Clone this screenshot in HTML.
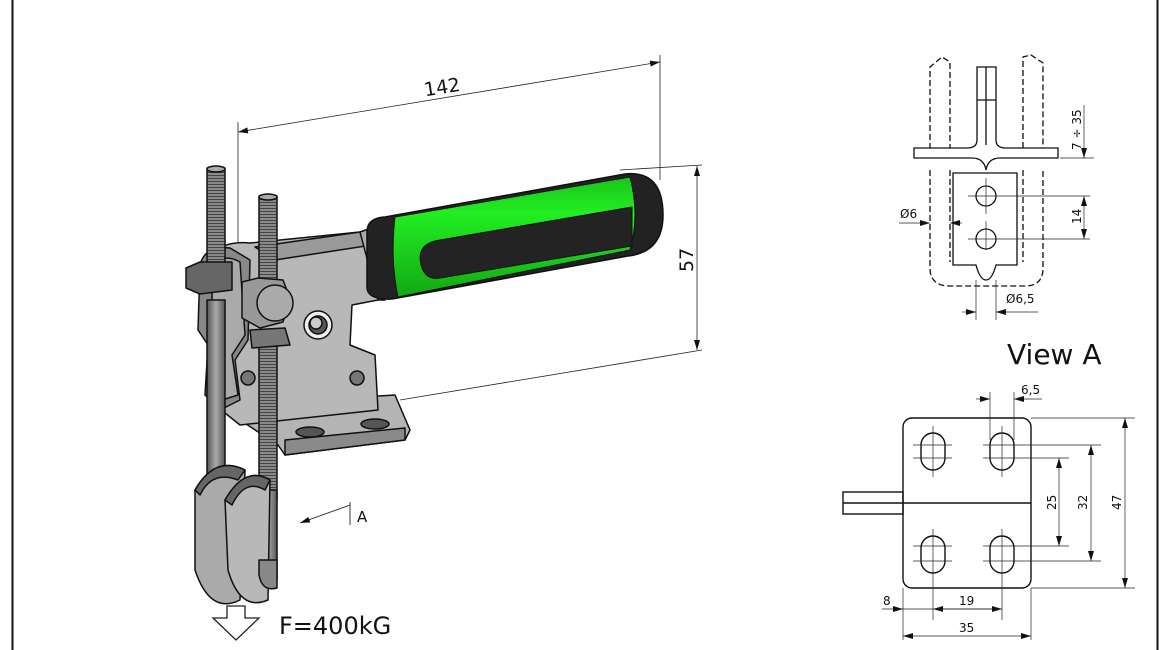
<!DOCTYPE html>
<html><head><meta charset="utf-8"><style>
html,body{margin:0;padding:0;background:#fff}
svg{display:block}
text{font-family:"DejaVu Sans","Liberation Sans",sans-serif;fill:#111}
</style></head><body>
<svg width="1170" height="650" viewBox="0 0 1170 650" xmlns="http://www.w3.org/2000/svg">
<defs>
<marker id="ar" viewBox="0 0 10 6" refX="10" refY="3" markerWidth="10" markerHeight="6" orient="auto-start-reverse" markerUnits="userSpaceOnUse"><path d="M0,0 L10,3 L0,6 z" fill="#111"/></marker>
<linearGradient id="rod" x1="0" x2="1"><stop offset="0" stop-color="#555"/><stop offset=".5" stop-color="#aaa"/><stop offset="1" stop-color="#555"/></linearGradient>
<linearGradient id="gr" x1="0" y1="0" x2="0" y2="1"><stop offset="0" stop-color="#19c419"/><stop offset=".3" stop-color="#22ee22"/><stop offset="1" stop-color="#12a812"/></linearGradient>
<pattern id="thr" width="6" height="3" patternUnits="userSpaceOnUse"><rect width="6" height="3" fill="#8a8a8a"/><line x1="0" y1="1.5" x2="6" y2="1.5" stroke="#444" stroke-width="1"/></pattern>
</defs>
<line x1="12.5" y1="0" x2="12.5" y2="650" stroke="#111" stroke-width="2"/>
<line x1="1157.5" y1="0" x2="1157.5" y2="650" stroke="#111" stroke-width="2"/>

<g stroke="#222" stroke-width="0.8" fill="none">
<line x1="238" y1="122" x2="238" y2="250"/>
<line x1="660" y1="55" x2="660" y2="180"/>
<line x1="238" y1="132" x2="660" y2="62" marker-start="url(#ar)" marker-end="url(#ar)"/>
<line x1="620" y1="170" x2="702" y2="165"/>
<line x1="400" y1="400" x2="702" y2="350"/>
<line x1="697" y1="166" x2="697" y2="350" marker-start="url(#ar)" marker-end="url(#ar)"/>
</g>
<text x="424" y="94" font-size="19" transform="rotate(-9 440 88)">142</text>
<text x="0" y="0" font-size="19" transform="translate(693 272) rotate(-90)">57</text>

<g stroke="#111" stroke-width="1.5" stroke-linejoin="round">
<path d="M232 405 L395 395 L410 430 L405 440 L285 455 L278 445 L240 420 z" fill="#b4b4b4"/>
<path d="M285 440 L405 428 L405 440 L285 455 z" fill="#8a8a8a"/>
<ellipse cx="310" cy="432" rx="14" ry="5" fill="#555"/>
<ellipse cx="375" cy="424" rx="14" ry="5" fill="#555"/>
<path d="M205 265 Q215 240 250 243 L360 232 L375 236 L378 300 L352 305 L350 345 L375 355 L378 410 L240 425 L215 405 z" fill="#b8b8b8"/>
<path d="M255 247 L360 232 L372 245 L275 260 z" fill="#9a9a9a"/>
<circle cx="318" cy="325" r="14" fill="#eee"/>
<circle cx="318" cy="325" r="9" fill="#555"/>
<circle cx="316" cy="323" r="6" fill="#ccc"/>
<circle cx="357" cy="378" r="7" fill="#777"/>
<circle cx="248" cy="378" r="7" fill="#777"/>
<path d="M200 265 Q205 245 230 248 L250 260 L248 340 L235 360 L240 400 L220 410 L205 395 L208 345 L198 330 z" fill="#888"/>
<path d="M212 268 Q222 252 240 262 L245 335 L232 355 L238 395 L222 400 L215 355 L212 330 z" fill="#aaa"/>
<path d="M360 232 L380 225 L385 300 L378 300 z" fill="#aaa"/>
<rect x="207" y="168" width="18" height="110" fill="url(#thr)"/>
<rect x="207" y="300" width="18" height="250" fill="url(#rod)"/>
<rect x="259" y="196" width="18" height="90" fill="url(#thr)"/>
<rect x="259" y="340" width="18" height="160" fill="url(#thr)"/>
<rect x="259" y="490" width="18" height="90" fill="url(#rod)"/>
<ellipse cx="216" cy="169" rx="9" ry="3" fill="#aaa"/>
<ellipse cx="268" cy="197" rx="9" ry="3" fill="#aaa"/>
<path d="M186 268 L200 262 L232 262 L232 290 L200 294 L186 288 z" fill="#666"/>
<path d="M242 282 L258 278 L283 280 L290 298 L283 322 L260 328 L242 318 z" fill="#999"/>
<circle cx="275" cy="303" r="18" fill="#aaa"/>
<path d="M250 330 L285 328 L290 345 L252 348 z" fill="#777"/>
<path d="M195 490 Q215 455 245 470 L240 600 Q210 615 195 570 z" fill="#aaa"/>
<path d="M195 490 Q215 455 245 470 L238 480 Q212 470 200 495 z" fill="#666"/>
<path d="M225 500 Q245 465 270 480 L268 600 Q240 612 228 570 z" fill="#b8b8b8"/>
<path d="M225 500 Q245 465 270 480 L265 490 Q245 478 232 505 z" fill="#666"/>
<path d="M259 575 Q262 592 277 588 L277 560 L259 560 z" fill="#888"/>
<!-- handle -->
<path d="M367 232 Q367 218 385 217 L625 174 Q663 170 663 215 Q663 252 628 256 L392 299 Q368 300 367 288 z" fill="#222"/>
<path d="M395 217 L630 177 Q640 215 630 250 L398 297 Q390 260 395 217 z" fill="url(#gr)" stroke="#111" stroke-width="1"/>
<path d="M420 258 Q420 243 440 240 L632 207 L632 246 L440 278 Q422 281 420 258 z" fill="#232323" stroke="#111" stroke-width="1"/>
</g>

<g stroke="#222" stroke-width="0.9" fill="none">
<line x1="350" y1="505" x2="300" y2="523" marker-end="url(#ar)"/>
<line x1="350" y1="502" x2="350" y2="525"/>
</g>
<text x="357" y="522" font-size="15">A</text>

<path d="M227 606 L245 606 L245 618 L259 618 L236 640 L213 618 L227 618 z" fill="#fff" stroke="#222" stroke-width="1.3"/>
<text x="279" y="634" font-size="24">F=400kG</text>

<g stroke="#111" stroke-width="1.3" fill="none">
<g stroke-dasharray="6 3">
<path d="M930 158 L930 67 L942 57 L950 62 L950 148"/>
<path d="M1023 148 L1023 57 L1031 55 L1043 63 L1043 158"/>
<path d="M930 170 L930 268 Q930 286 950 286 L1025 286 Q1043 286 1043 268 L1043 170"/>
<path d="M950 170 L950 262"/>
<path d="M1023 170 L1023 262"/>
</g>
<path d="M977 67 L996 67 L996 140 Q996 148 1006 148 L1058 148 L1058 158 L1000 158 Q988 158 986 170 Q984 158 972 158 L914 158 L914 148 L967 148 Q977 148 977 140 z" fill="#fff"/>
<line x1="986" y1="67" x2="986" y2="145"/>
<line x1="977" y1="100" x2="996" y2="100"/>
<path d="M1017 265 L1017 173 L953 173 L953 265 L976 265 Q980 280 986 280 Q992 280 996 265 z"/>
<circle cx="986" cy="196" r="10"/>
<circle cx="986" cy="239" r="10"/>
</g>
<g stroke="#222" stroke-width="0.7" fill="none">
<line x1="968" y1="196" x2="1090" y2="196"/><line x1="986" y1="178" x2="986" y2="214"/>
<line x1="968" y1="239" x2="1090" y2="239"/><line x1="986" y1="221" x2="986" y2="250"/>
<line x1="1060" y1="158" x2="1094" y2="158"/>
<line x1="1084" y1="105" x2="1084" y2="158" marker-end="url(#ar)"/>
<line x1="1084" y1="196" x2="1084" y2="239" marker-start="url(#ar)" marker-end="url(#ar)"/>
<line x1="899" y1="223" x2="930" y2="223" marker-end="url(#ar)"/>
<line x1="950" y1="223" x2="962" y2="223" marker-start="url(#ar)"/>
<line x1="976" y1="280" x2="976" y2="320"/><line x1="996" y1="280" x2="996" y2="320"/>
<line x1="962" y1="312" x2="976" y2="312" marker-end="url(#ar)"/>
<line x1="996" y1="312" x2="1038" y2="312" marker-start="url(#ar)"/>
</g>
<text x="900" y="218" font-size="12">Ø6</text>
<text x="1006" y="303" font-size="12">Ø6,5</text>
<text font-size="12" transform="translate(1081 150) rotate(-90)">7 ÷ 35</text>
<text font-size="12" transform="translate(1081 224) rotate(-90)">14</text>
<text x="1007" y="364" font-size="28">View A</text>

<g stroke="#111" stroke-width="1.4" fill="none">
<rect x="903" y="418" width="128" height="170" rx="9"/>
<line x1="903" y1="503" x2="1031" y2="503"/>
<rect x="843" y="492" width="60" height="22"/>
<line x1="843" y1="503" x2="903" y2="503"/>
<rect x="921" y="433" width="24" height="37" rx="12"/>
<rect x="990" y="433" width="24" height="37" rx="12"/>
<rect x="921" y="536" width="24" height="37" rx="12"/>
<rect x="990" y="536" width="24" height="37" rx="12"/>
</g>
<g stroke="#222" stroke-width="0.7" fill="none">
<line x1="933" y1="426" x2="933" y2="477"/><line x1="913" y1="445" x2="952" y2="445"/><line x1="913" y1="458" x2="952" y2="458"/>
<line x1="1002" y1="426" x2="1002" y2="477"/><line x1="983" y1="445" x2="1101" y2="445"/><line x1="983" y1="458" x2="1069" y2="458"/>
<line x1="933" y1="529" x2="933" y2="620"/><line x1="913" y1="546" x2="952" y2="546"/><line x1="913" y1="561" x2="952" y2="561"/>
<line x1="1002" y1="529" x2="1002" y2="620"/><line x1="983" y1="546" x2="1069" y2="546"/><line x1="983" y1="561" x2="1101" y2="561"/>
<line x1="990" y1="392" x2="990" y2="440"/><line x1="1014" y1="392" x2="1014" y2="440"/>
<line x1="976" y1="399" x2="990" y2="399" marker-end="url(#ar)"/>
<line x1="1014" y1="399" x2="1042" y2="399" marker-start="url(#ar)"/>
<line x1="1031" y1="418" x2="1135" y2="418"/><line x1="1031" y1="588" x2="1135" y2="588"/>
<line x1="1059" y1="458" x2="1059" y2="546" marker-start="url(#ar)" marker-end="url(#ar)"/>
<line x1="1091" y1="445" x2="1091" y2="561" marker-start="url(#ar)" marker-end="url(#ar)"/>
<line x1="1125" y1="418" x2="1125" y2="588" marker-start="url(#ar)" marker-end="url(#ar)"/>
<line x1="903" y1="588" x2="903" y2="640"/><line x1="1031" y1="588" x2="1031" y2="640"/>
<line x1="882" y1="609" x2="903" y2="609" marker-end="url(#ar)"/>
<line x1="903" y1="609" x2="1002" y2="609"/>
<line x1="933" y1="609" x2="1002" y2="609" marker-start="url(#ar)" marker-end="url(#ar)"/>
<line x1="903" y1="636" x2="1031" y2="636" marker-start="url(#ar)" marker-end="url(#ar)"/>
</g>
<text x="1021" y="394" font-size="12">6,5</text>
<text x="883" y="605" font-size="12">8</text>
<text x="959" y="605" font-size="12">19</text>
<text x="959" y="632" font-size="12">35</text>
<text font-size="12" transform="translate(1056 510) rotate(-90)">25</text>
<text font-size="12" transform="translate(1087 510) rotate(-90)">32</text>
<text font-size="12" transform="translate(1121 510) rotate(-90)">47</text>
</svg>
</body></html>
